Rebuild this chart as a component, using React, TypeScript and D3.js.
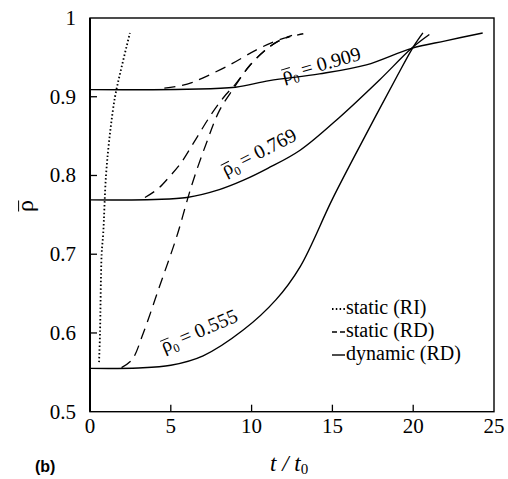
import React from 'react';
import * as d3 from 'd3';

const xTicks = [0, 5, 10, 15, 20, 25];
const yTicks = [0.5, 0.6, 0.7, 0.8, 0.9, 1];
const yTickLabels = ['0.5', '0.6', '0.7', '0.8', '0.9', '1'];

// static (RI), dotted
const staticRI: [number, number][] = [
  [0.56, 0.563], [0.62, 0.6], [0.72, 0.7], [0.82, 0.727], [0.99, 0.8],
  [1.24, 0.854], [1.55, 0.9], [1.96, 0.938], [2.47, 0.981],
];

// static (RD), dashed
const staticRD555: [number, number][] = [
  [1.95, 0.556], [2.6, 0.566], [3.3, 0.6], [4.3, 0.659], [5.36, 0.722],
  [6.3, 0.788], [7.2, 0.841], [8.0, 0.882], [8.9, 0.911], [9.9, 0.94],
  [10.9, 0.96], [11.6, 0.97], [12.5, 0.978],
];
const staticRD769: [number, number][] = [
  [3.4, 0.772], [4.2, 0.783], [4.94, 0.799], [5.6, 0.815], [6.4, 0.841],
  [7.42, 0.875], [8.3, 0.9], [9.0, 0.916], [9.9, 0.94], [10.9, 0.96],
  [11.6, 0.97], [12.3, 0.976],
];
const staticRD909: [number, number][] = [
  [4.6, 0.911], [5.35, 0.913], [6.3, 0.918], [7.0, 0.924], [8.65, 0.9405],
  [10.3, 0.9596], [11.7, 0.9723], [13.2, 0.98],
];

// dynamic (RD), solid
const dynamic555: [number, number][] = [
  [0, 0.555], [3, 0.5555], [5, 0.559], [7, 0.571], [9.5, 0.604], [11.5, 0.642],
  [13, 0.684], [15, 0.77], [17, 0.849], [19, 0.926], [20, 0.963], [20.6, 0.981],
];
const dynamic769: [number, number][] = [
  [0, 0.769], [4, 0.7695], [6, 0.772], [8, 0.782], [9.5, 0.794], [11, 0.809],
  [13, 0.832], [15.45, 0.874], [17.9, 0.921], [19.9, 0.9615], [21, 0.979],
];
const dynamic909: [number, number][] = [
  [0, 0.909], [6, 0.9095], [9, 0.912], [11.1, 0.9205], [14.2, 0.929],
  [17.1, 0.9405], [19.9, 0.9615], [22, 0.971], [24.3, 0.981],
];

const curveLabels = [
  { value: '0.909', at: [12.0, 0.919], angle: -16 },
  { value: '0.769', at: [8.4, 0.799], angle: -27 },
  { value: '0.555', at: [4.6, 0.575], angle: -23 },
];

const legendItems = [
  { label: 'static (RI)', dash: '1.5,2.3', width: 1.8 },
  { label: 'static (RD)', dash: '5,3', width: 1.3 },
  { label: 'dynamic (RD)', dash: null, width: 1.4 },
];

const serif = "'Liberation Serif', 'Times New Roman', 'DejaVu Serif', serif";
const serifStyle = { fontFamily: serif };

function RhoBar({ size, sub }: { size: number; sub?: boolean }) {
  return (
    <>
      <text x={0} y={0} style={serifStyle} fontSize={size}>ρ</text>
      <line x1={0.5} x2={size * 0.48} y1={-size * 0.6} y2={-size * 0.6} stroke="#000" strokeWidth={1} />
      {sub && (
        <text x={size * 0.5} y={size * 0.22} style={serifStyle} fontSize={size * 0.6}>0</text>
      )}
    </>
  );
}

export default function App() {
  const width = 508;
  const height = 479;
  const x = d3.scaleLinear().domain([0, 25]).range([90, 494]);
  const y = d3.scaleLinear().domain([0.5, 1]).range([411.7, 18]);

  const line = d3.line<[number, number]>()
    .x(d => x(d[0]))
    .y(d => y(d[1]))
    .curve(d3.curveCatmullRom.alpha(0.5));

  const x0 = x.range()[0];
  const x1 = x.range()[1];
  const yb = y.range()[0];
  const yt = y.range()[1];

  return (
    <div style={{ position: 'absolute', left: 0, top: 0 }}>
      <svg width={width} height={height} style={{ display: 'block', background: '#fff', fontFamily: serif }}>
        {/* frame */}
        <rect x={x0} y={yt} width={x1 - x0} height={yb - yt} fill="none" stroke="#000" strokeWidth={1.4} />
        <line x1={x0} x2={x0} y1={yt} y2={yb} stroke="#000" strokeWidth={2} />

        {/* y ticks */}
        {yTicks.map((t, i) => (
          <g key={'y' + t}>
            {t > 0.5 && t < 1 && <line x1={x0} x2={x0 + 7} y1={y(t)} y2={y(t)} stroke="#000" strokeWidth={1.3} />}
            <text x={76} y={y(t) + 7} textAnchor="end" style={serifStyle} fontSize={21}>{yTickLabels[i]}</text>
          </g>
        ))}

        {/* x ticks */}
        {xTicks.map(t => (
          <g key={'x' + t}>
            {t > 0 && t < 25 && <line x1={x(t)} x2={x(t)} y1={yb} y2={yb - 7} stroke="#000" strokeWidth={1.3} />}
            <text x={x(t)} y={433} textAnchor="middle" style={serifStyle} fontSize={21}>{t}</text>
          </g>
        ))}

        {/* axis titles */}
        <g transform="translate(33,206) rotate(-90)">
          <g transform="translate(-6,0)">
            <RhoBar size={24} />
          </g>
        </g>
        <text x={270} y={471} style={serifStyle} fontSize={23} fontStyle="italic">
          t / t<tspan fontSize={15} dy={3} fontStyle="normal">0</tspan>
        </text>
        <text x={35} y={472} style={{ fontFamily: "'Liberation Sans', Arial, sans-serif" }} fontSize={16} fontWeight="bold">(b)</text>

        {/* curves */}
        <path d={line(staticRI) ?? ''} fill="none" stroke="#000" strokeWidth={1.8} strokeDasharray="1.5,2.3" />
        {[staticRD555, staticRD769, staticRD909].map((s, i) => (
          <path key={'rd' + i} d={line(s) ?? ''} fill="none" stroke="#000" strokeWidth={1.3} strokeDasharray="11,7" />
        ))}
        {[dynamic555, dynamic769, dynamic909].map((s, i) => (
          <path key={'dyn' + i} d={line(s) ?? ''} fill="none" stroke="#000" strokeWidth={1.4} />
        ))}

        {/* curve labels */}
        {curveLabels.map(l => (
          <g key={l.value} transform={`translate(${x(l.at[0])},${y(l.at[1])}) rotate(${l.angle})`}>
            <RhoBar size={20} sub />
            <text x={20} y={0} style={serifStyle} fontSize={20}>= {l.value}</text>
          </g>
        ))}

        {/* legend */}
        {legendItems.map((item, i) => {
          const ly = 314 + i * 23;
          return (
            <g key={item.label}>
              <line x1={332} x2={345} y1={ly - 5} y2={ly - 5} stroke="#000" strokeWidth={item.width}
                strokeDasharray={item.dash ?? undefined} />
              <text x={346} y={ly} style={serifStyle} fontSize={20}>{item.label}</text>
            </g>
          );
        })}
      </svg>
    </div>
  );
}
